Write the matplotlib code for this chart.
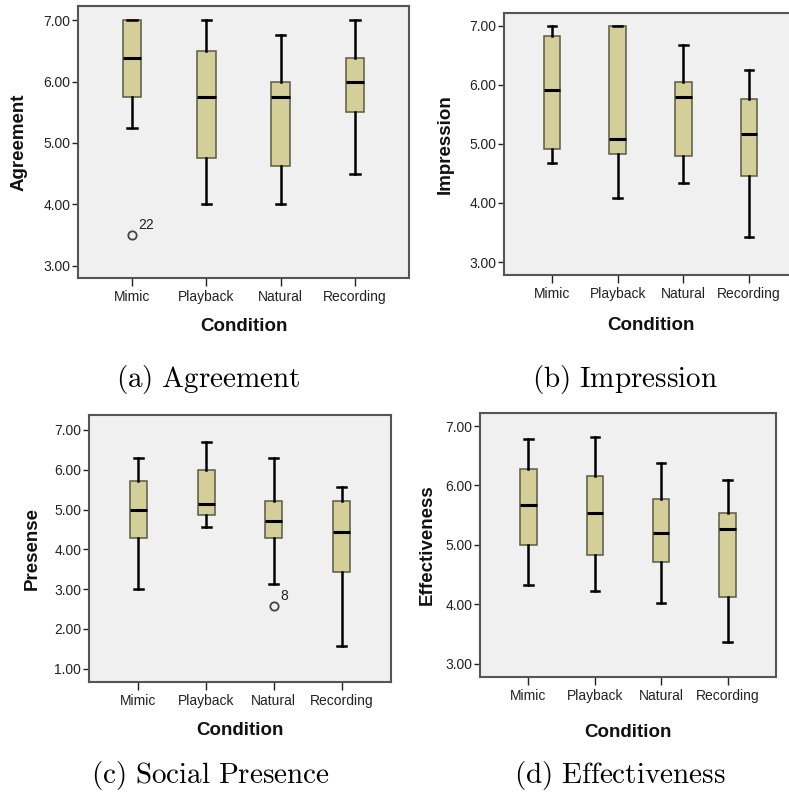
import matplotlib
matplotlib.use("Agg")
import matplotlib.pyplot as plt

plt.rcParams['mathtext.fontset'] = 'cm'
plt.rcParams['font.family'] = ['Liberation Sans', 'DejaVu Sans']

conditions = ["Mimic", "Playback", "Natural", "Recording"]

# five-number summaries: [whisker low, Q1, median, Q3, whisker high]
agreement = [[5.25, 5.75, 6.375, 7.00, 7.00],
             [4.00, 4.75, 5.75, 6.50, 7.00],
             [4.00, 4.625, 5.75, 6.00, 6.75],
             [4.50, 5.50, 6.00, 6.375, 7.00]]
agreement_outliers = [[3.5], [], [], []]
agreement_outlier_ids = [["22"], [], [], []]

impression = [[4.67, 4.92, 5.92, 6.83, 7.00],
              [4.08, 4.83, 5.08, 7.00, 7.00],
              [4.33, 4.79, 5.79, 6.05, 6.67],
              [3.42, 4.46, 5.16, 5.76, 6.25]]
impression_outliers = [[], [], [], []]
impression_outlier_ids = [[], [], [], []]

presence = [[3.00, 4.29, 5.00, 5.71, 6.29],
            [4.57, 4.86, 5.14, 6.00, 6.71],
            [3.14, 4.29, 4.71, 5.21, 6.29],
            [1.57, 3.43, 4.43, 5.21, 5.57]]
presence_outliers = [[], [], [2.57], []]
presence_outlier_ids = [[], [], ["8"], []]

effectiveness = [[4.33, 5.00, 5.67, 6.27, 6.78],
                 [4.22, 4.83, 5.53, 6.16, 6.81],
                 [4.02, 4.71, 5.20, 5.77, 6.38],
                 [3.36, 4.13, 5.27, 5.54, 6.09]]
effectiveness_outliers = [[], [], [], []]
effectiveness_outlier_ids = [[], [], [], []]

ylabels = ["Agreement", "Impression", "Presense", "Effectiveness"]
captions = ["(a)\\ Agreement", "(b)\\ Impression", "(c)\\ Social\\ Presence", "(d)\\ Effectiveness"]
yticks_list = [[3, 4, 5, 6, 7], [3, 4, 5, 6, 7], [1, 2, 3, 4, 5, 6, 7], [3, 4, 5, 6, 7]]
ylims = [(2.80, 7.23), (2.78, 7.215), (0.665, 7.377), (2.776, 7.219)]

W, H = 789, 796
fig = plt.figure(figsize=(W / 100, H / 100), dpi=100)

# axes rects in pixels: left, top, right, bottom
rects = [(78, 6, 409, 278), (504, 13, 797, 275), (89, 415, 391, 682), (480, 413, 776, 677)]
ylabel_x = [-0.178, -0.199, -0.189, -0.179]
xlabel_y = [-0.180, -0.191, -0.180, -0.212]
cap_pos = [(208, 380), (625, 380), (211, 775), (620, 775)]

datasets = [agreement, impression, presence, effectiveness]
outliers = [agreement_outliers, impression_outliers, presence_outliers, effectiveness_outliers]
outlier_ids = [agreement_outlier_ids, impression_outlier_ids, presence_outlier_ids, effectiveness_outlier_ids]

face = "#D4CF99"
edge = "#5B5A45"

for i in range(4):
    l, t, r, b = rects[i]
    ax = fig.add_axes([l / W, 1 - b / H, (r - l) / W, (b - t) / H])
    ax.set_facecolor("#F0F0F0")
    stats = []
    for j, s in enumerate(datasets[i]):
        stats.append(dict(whislo=s[0], q1=s[1], med=s[2], q3=s[3], whishi=s[4],
                          fliers=outliers[i][j], label=conditions[j]))
    ax.bxp(stats, positions=[1, 2, 3, 4], widths=0.25, capwidths=0.13,
           patch_artist=True, showfliers=True,
           boxprops=dict(facecolor=face, edgecolor=edge, linewidth=1.1),
           whiskerprops=dict(color="black", linewidth=1.8),
           capprops=dict(color="black", linewidth=1.8),
           medianprops=dict(color="black", linewidth=2.2),
           flierprops=dict(marker="o", markersize=6, markerfacecolor="none",
                           markeredgecolor="#444444", markeredgewidth=1.3))
    for j in range(4):
        for v, lab in zip(outliers[i][j], outlier_ids[i][j]):
            ax.annotate(lab, (j + 1, v), xytext=(4.5, 7.5), textcoords="offset points",
                        fontsize=10, color="#222222", va="center", ha="left")
    ax.set_xlim(0.27, 4.73)
    ax.set_ylim(*ylims[i])
    ax.set_yticks(yticks_list[i])
    ax.set_yticklabels(["%.2f" % v for v in yticks_list[i]])
    ax.set_xticks([1, 2, 3, 4])
    ax.set_xticklabels(conditions)
    ax.tick_params(axis="y", length=4.5, width=1.0, pad=1, labelsize=10, colors="#222222")
    ax.tick_params(axis="x", length=6, width=1.0, pad=2.5, labelsize=10, colors="#222222")
    for sp in ax.spines.values():
        sp.set_color("#555555")
        sp.set_linewidth(1.5)
    ax.set_ylabel(ylabels[i], fontsize=13.5, fontweight="bold", color="#111111")
    ax.yaxis.label.set_va("center")
    ax.yaxis.set_label_coords(ylabel_x[i], 0.5)
    ax.set_xlabel("Condition", fontsize=13.5, fontweight="bold", color="#111111")
    ax.xaxis.label.set_va("center")
    ax.xaxis.set_label_coords(0.5, xlabel_y[i])
    cx, cy = cap_pos[i]
    fig.text(cx / W, 1 - cy / H, "$\\mathrm{" + captions[i] + "}$", fontsize=21,
             ha="center", va="center", color="black")

fig.savefig("out.png", dpi=100)
